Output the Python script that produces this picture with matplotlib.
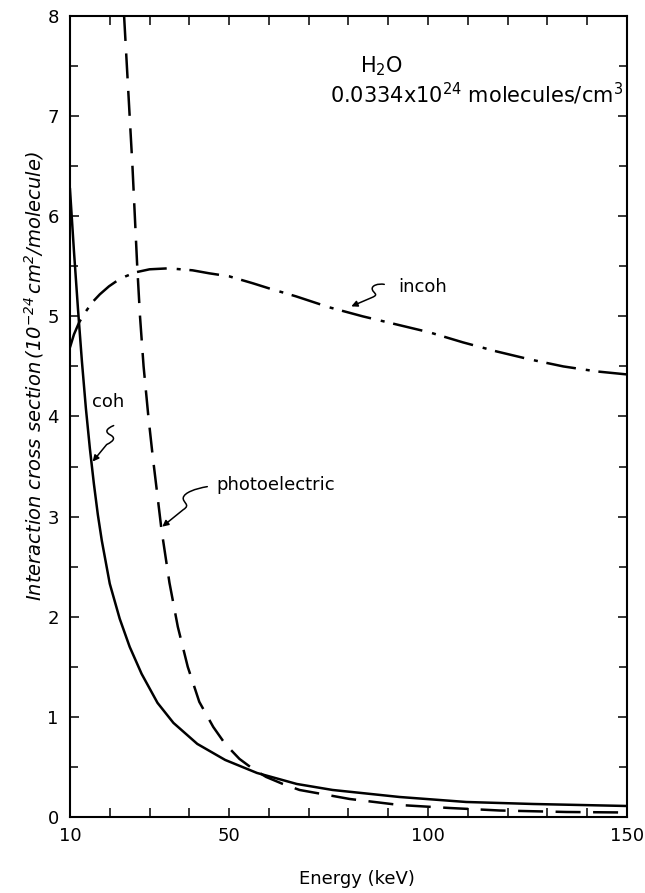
import matplotlib
matplotlib.use('Agg')
from matplotlib import pyplot as plt
from matplotlib.ticker import MultipleLocator, FixedLocator
from matplotlib.patches import FancyArrowPatch
from matplotlib.path import Path
from matplotlib.transforms import IdentityTransform

plt.rcParams['font.family'] = ['DejaVu Sans']
plt.rcParams['mathtext.fontset'] = 'dejavusans'

# values (energy in keV, cross section in 1e-24 cm^2/molecule)
coh_e = [10, 11, 12, 13, 14, 15, 16, 17, 18, 20, 22.5, 25, 28, 32, 36,
         42, 49, 57, 67, 76, 92.8, 109.6, 126.4, 150]
coh_v = [6.27, 5.65, 5.08, 4.55, 4.08, 3.68, 3.33, 3.02, 2.76, 2.33, 1.98, 1.70, 1.43, 1.14, 0.94,
         0.73, 0.57, 0.44, 0.33, 0.27, 0.20, 0.15, 0.13, 0.11]

photo_e = [23.6, 24.3, 25.0, 25.7, 26.3, 26.9, 27.6, 28.5, 29.7, 30.8, 31.8, 33.0, 35.0,
           37.1, 39.6, 42.5, 46.0, 49.0, 52.6, 56.0, 59.3, 63.5, 67.7, 80.3, 92.8, 105.4,
           118, 134.8, 150]
photo_v = [8.0, 7.5, 7.0, 6.5, 6.0, 5.5, 5.0, 4.5, 4.0, 3.6, 3.27, 2.87, 2.34,
           1.90, 1.50, 1.15, 0.90, 0.73, 0.58, 0.48, 0.40, 0.33, 0.27, 0.18, 0.12, 0.09,
           0.065, 0.05, 0.045]

incoh_e = [10, 11, 12.3, 14, 15.6, 17.5, 19.8, 22, 24, 26.5, 30, 34.9, 40.8, 45, 50,
           56, 60, 66.8, 75.2, 83.6, 92, 100.4, 108.8, 117.2, 125.6, 134, 142.4, 150]
incoh_v = [4.69, 4.82, 4.94, 5.05, 5.14, 5.22, 5.30, 5.36, 5.40, 5.44, 5.47, 5.48, 5.46,
           5.43, 5.40, 5.33, 5.28, 5.20, 5.09, 5.00, 4.92, 4.84, 4.74, 4.65, 4.57, 4.50,
           4.45, 4.42]

x_labels = [10, 50, 100, 150]
y_labels = [0, 1, 2, 3, 4, 5, 6, 7, 8]

fig = plt.figure(figsize=(6.45, 8.93), dpi=100)
ax = fig.add_axes([0.1085, 0.0851, 0.8636, 0.897])

ax.plot(coh_e, coh_v, color='black', lw=1.8)
ax.plot(photo_e, photo_v, color='black', lw=1.8, dashes=(10, 5))
ax.plot(incoh_e, incoh_v, color='black', lw=1.8, dashes=(12, 4, 1.6, 3.5))

ax.set_xlim(10, 150)
ax.set_ylim(0, 8)
ax.xaxis.set_major_locator(FixedLocator(x_labels))
ax.xaxis.set_minor_locator(MultipleLocator(10))
ax.yaxis.set_major_locator(FixedLocator(y_labels))
ax.yaxis.set_minor_locator(MultipleLocator(0.5))
ax.set_xticklabels([str(v) for v in x_labels])
ax.set_yticklabels([str(v) for v in y_labels])

ax.tick_params(which='both', direction='in', top=True, right=True, labelsize=13, width=1.1)
ax.tick_params(axis='x', which='both', length=6.5, pad=7)
ax.tick_params(axis='y', which='major', length=6.5, pad=8)
ax.tick_params(axis='y', which='minor', length=5.5)
for s in ax.spines.values():
    s.set_linewidth(1.5)

plt.rcParams['mathtext.default'] = 'it'
ax.set_ylabel(r'Interaction cross section$\,(10^{-24}\,cm^2/molecule)$', fontsize=14, style='italic')
ax.yaxis.label.set_va('center')
ax.yaxis.set_label_coords(-0.064, 0.55)
ax.set_xlabel('Energy (keV)', fontsize=13, va='center')
ax.xaxis.set_label_coords(0.515, -0.078)

plt.rcParams['mathtext.default'] = 'regular'
ax.text(82.9, 7.44, r'H$_2$O', fontsize=15)
ax.text(75.3, 7.13, r'0.0334x10$^{24}$ molecules/cm$^3$', fontsize=15)

ax.text(15.5, 4.09, 'coh', fontsize=13)
ax.text(46.9, 3.27, 'photoelectric', fontsize=13)
ax.text(92.4, 5.24, 'incoh', fontsize=13)


def squiggle(tip, pts):
    # pts: pixel offsets from the arrow tip (x right, y up), drawn as a wavy leader
    x0, y0 = ax.transData.transform(tip)
    verts = [(x0 + dx, y0 + dy) for dx, dy in pts] + [(x0, y0)]
    codes = [Path.MOVETO, Path.CURVE4, Path.CURVE4, Path.CURVE4,
             Path.CURVE4, Path.CURVE4, Path.CURVE4, Path.LINETO]
    arr = FancyArrowPatch(path=Path(verts, codes), arrowstyle='-|>', mutation_scale=9,
                          color='black', lw=1.1, transform=IdentityTransform())
    fig.add_artist(arr)


squiggle((15.7, 3.55), [(21, 36), (14, 33), (12, 30), (17, 27), (23, 24), (22, 21), (14, 17)])
squiggle((33.2, 2.90), [(45, 40), (33, 38), (22, 34), (21, 29), (20, 24), (29, 22), (21, 17)])
squiggle((80.7, 5.10), [(33, 22), (27, 23), (20, 21), (21, 17), (22, 13), (28, 12), (21, 9)])

fig.savefig('out.png', dpi=100)
